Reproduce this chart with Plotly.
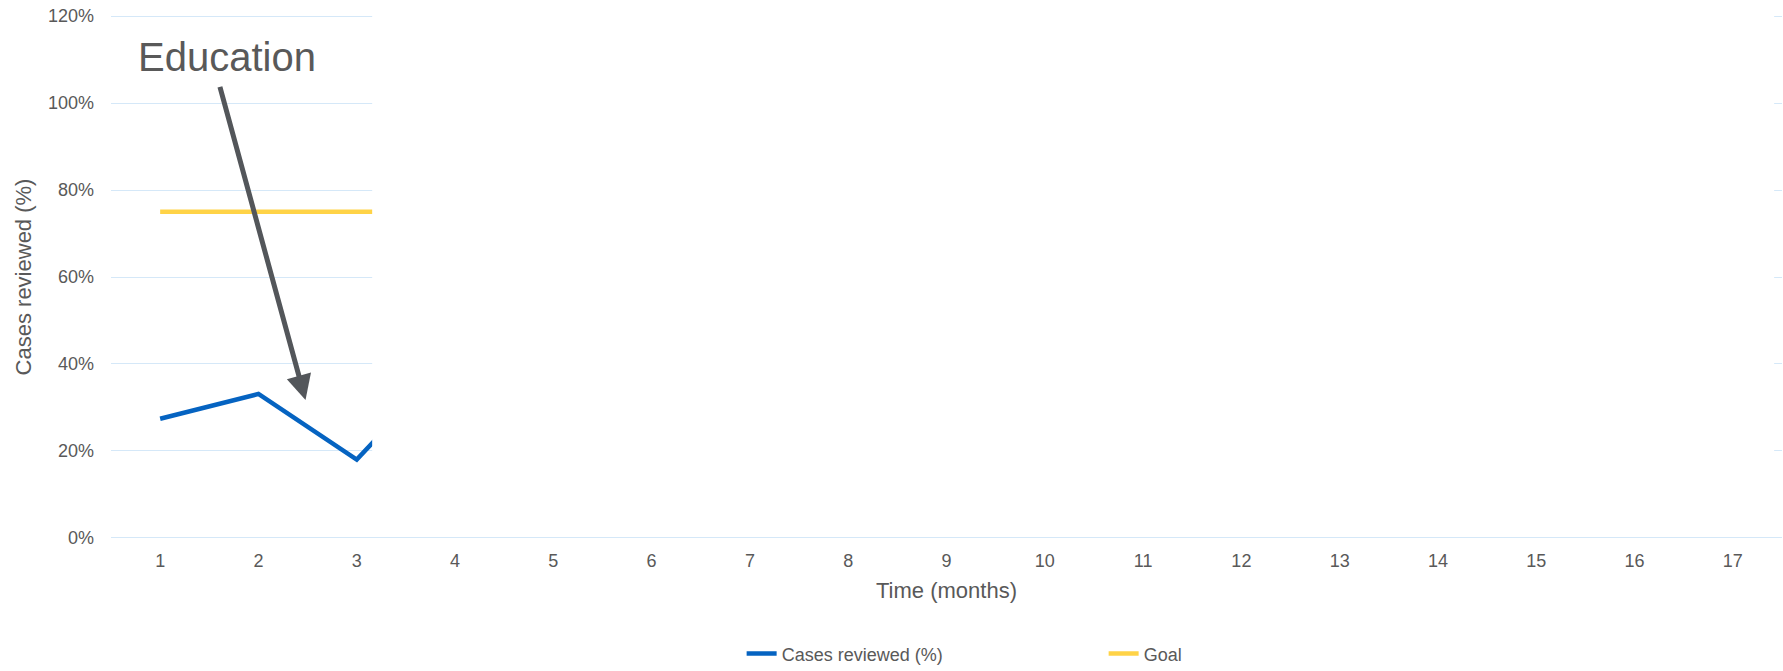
import plotly.graph_objects as go

# ---- data ----
months = list(range(1, 18))
cases_months = [1, 2, 3, 4]
cases_reviewed = [0.274, 0.331, 0.180, 0.42]
goal = [0.75] * 17
ytick_vals = [0, 0.2, 0.4, 0.6, 0.8, 1.0, 1.2]

GREY = "#595959"
FONT = "Liberation Sans, Arial, sans-serif"

fig = go.Figure()
fig.add_trace(go.Scatter(x=cases_months, y=cases_reviewed, mode="lines",
                         name="Cases reviewed (%)",
                         line=dict(color="#0563C1", width=4.5)))
fig.add_trace(go.Scatter(x=months, y=goal, mode="lines", name="Goal",
                         line=dict(color="#FFD347", width=4.5)))

# white reveal mask covering the not-yet-shown part of the chart
fig.add_shape(type="rect", xref="x", yref="y", x0=3.157, x1=17.42,
              y0=0.006, y1=1.3, fillcolor="white", line=dict(width=0),
              layer="above")

fig.add_annotation(x=2.479, y=0.317, ax=1.604, ay=1.041, xref="x", yref="y",
                   axref="x", ayref="y", text="", showarrow=True,
                   arrowhead=2, arrowsize=1.0, arrowwidth=5,
                   arrowcolor="#53565A")
fig.add_annotation(x=1.68, y=1.105, xref="x", yref="y", text="Education",
                   showarrow=False, font=dict(size=40, color=GREY, family=FONT),
                   xanchor="center", yanchor="middle")

fig.update_layout(
    width=1783, height=671,
    margin=dict(l=111, r=1, t=13.5, b=131, autoexpand=False),
    paper_bgcolor="white", plot_bgcolor="white",
    font=dict(family=FONT, size=18, color=GREY),
    showlegend=True,
    legend=dict(orientation="h", x=0.3774, xanchor="left", y=-0.2165,
                yanchor="middle", font=dict(size=18, color=GREY),
                entrywidth=317, itemwidth=30),
    xaxis=dict(range=[0.5, 17.5], tickvals=months, ticktext=[str(m) for m in months],
               showgrid=False, zeroline=False, showline=False, automargin=False,
               ticks="", ticklabelstandoff=8,
               tickfont=dict(size=18, color=GREY),
               title=dict(text="Time (months)", font=dict(size=22, color=GREY),
                          standoff=12)),
    yaxis=dict(range=[-0.005, 1.205], tickvals=ytick_vals, tickformat=".0%",
               showgrid=True, gridcolor="#D5E8F8", gridwidth=1, automargin=False,
               zeroline=False, showline=False, ticks="", ticklabelstandoff=16,
               tickfont=dict(size=18, color=GREY),
               title=dict(text="Cases reviewed (%)", font=dict(size=22, color=GREY),
                          standoff=10)),
)

fig.write_html("out.html")
